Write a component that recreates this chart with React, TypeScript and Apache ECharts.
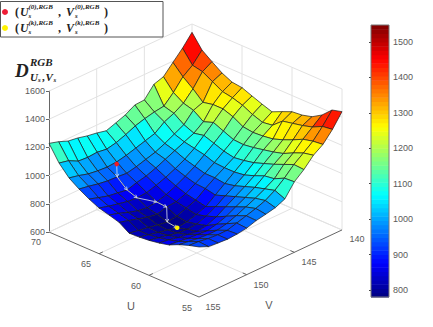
import React, { useEffect, useRef } from "react";
import * as echarts from "echarts";

// Surface heights D(U,V); each list runs over V = 140..155
const vValues = [140,141,142,143,144,145,146,147,148,149,150,151,152,153,154,155];
const uValues = [70,69,68,67,66,65,64,63,62,61,60,59,58,57,56,55];
const zU70 = [1541,1460,1391,1321,1299,1220,1216,1177,1152,1128,1144,1155,1172,1182,1209,1229];
const zU69 = [1446,1370,1320,1240,1175,1165,1150,1130,1100,1075,1060,1070,1065,1070,1105,1120];
const zU68 = [1394,1355,1265,1195,1155,1125,1075,1055,1035,1015,1000,995,1000,1010,1030,1045];
const zU67 = [1345,1315,1200,1175,1105,1070,1035,1005,985,965,950,956,960,970,985,997];
const zU66 = [1311,1275,1215,1125,1075,1045,1015,985,955,930,915,894,905,915,935,957];
const zU65 = [1302,1262,1215,1150,1090,1030,985,950,920,895,875,869,875,890,905,924];
const zU64 = [1274,1240,1190,1120,1065,1015,965,925,890,860,839,830,840,860,885,905];
const zU63 = [1247,1205,1150,1090,1040,990,945,905,865,840,834,815,825,845,865,884];
const zU62 = [1223,1180,1140,1085,1025,985,945,900,850,825,800,790,800,815,825,838];
const zU61 = [1255,1190,1145,1095,1035,985,935,885,835,810,790,780,795,810,825,841];
const zU60 = [1285,1250,1155,1110,1050,995,950,910,865,830,805,800,805,820,835,848];
const zU59 = [1292,1265,1180,1125,1075,1020,975,935,895,855,825,815,825,835,850,860];
const zU58 = [1311,1280,1210,1145,1100,1050,1000,960,925,890,865,850,855,860,870,877];
const zU57 = [1354,1300,1245,1180,1130,1060,1020,985,955,925,900,885,885,890,900,910];
const zU56 = [1420,1335,1262,1210,1160,1095,1040,1000,975,955,935,915,915,920,930,935];
const zU55 = [1439,1345,1270,1225,1155,1100,1010,980,965,952,930,920,915,920,926,955];
const zGrid = [zU70,zU69,zU68,zU67,zU66,zU65,zU64,zU63,zU62,zU61,zU60,zU59,zU58,zU57,zU56,zU55];

// Descent path
const pathU = [68,67,66,65,64,63,62,61];
const pathV = [150,151,151,151,150,150,151,151];
const pathZ = [985,956,894,869,839,834,790,780];

const zTicks = [600,800,1000,1200,1400,1600];
const uTicks = [70,65,60,55];
const vTicks = [155,150,145,140];
const colorTicks = [800,900,1000,1100,1200,1300,1400,1500];
const colorMin = 780;
const colorMax = 1548;

const project = (u: number, v: number, z: number): [number, number] => {
  const a = 70 - u;
  const b = v - 140;
  return [192 + 10 * a - 9.53 * b, 165 + 4.33 * a + 4.47 * b - (z - 600) * 0.141];
};

const clamp = (x: number) => Math.max(0, Math.min(1, x));
const jet = (t: number) => {
  const r = clamp(1.5 - Math.abs(4 * t - 3));
  const g = clamp(1.5 - Math.abs(4 * t - 2));
  const b = clamp(1.5 - Math.abs(4 * t - 1));
  return `rgb(${Math.round(r * 255)},${Math.round(g * 255)},${Math.round(b * 255)})`;
};
const colorOf = (z: number) => {
  const idx = Math.max(0, Math.min(63, Math.floor(((z - colorMin) / (colorMax - colorMin)) * 64)));
  return jet((idx + 0.5) / 64);
};

type Seg = [number, number, number, number, number, number];
const wallSegs: Seg[] = [];
zTicks.forEach((z) => {
  wallSegs.push([70, 155, z, 70, 140, z]);
  wallSegs.push([70, 140, z, 55, 140, z]);
});
[65, 60].forEach((u) => {
  wallSegs.push([u, 140, 600, u, 140, 1600]);
  wallSegs.push([u, 140, 600, u, 155, 600]);
});
[150, 145].forEach((v) => {
  wallSegs.push([70, v, 600, 70, v, 1600]);
  wallSegs.push([70, v, 600, 55, v, 600]);
});
wallSegs.push([70, 140, 600, 70, 140, 1600]);
wallSegs.push([55, 140, 600, 55, 140, 1600]);
wallSegs.push([70, 140, 600, 70, 155, 600]);
wallSegs.push([70, 140, 600, 55, 140, 600]);

const axisSegs: Seg[] = [
  [70, 155, 600, 55, 155, 600],
  [55, 155, 600, 55, 140, 600],
];
[65, 60].forEach((u) => axisSegs.push([u, 155, 600, u, 154.6, 600]));
[150, 145].forEach((v) => axisSegs.push([55, v, 600, 55.4, v, 600]));

const cells: number[][] = [];
for (let s = 0; s <= 28; s++) {
  for (let i = 0; i < 15; i++) {
    const j = s - i;
    if (j >= 0 && j < 15) cells.push([i, j]);
  }
}

const bands: number[][] = [];
for (let i = 0; i < 64; i++) bands.push([i]);

const GRAY = "#5a5a5a";
const SERIF = '"Liberation Serif", "DejaVu Serif", serif';
const SANS = '"Liberation Sans", Arial, sans-serif';

const mathText = (text: string, x: number, y: number, size: number, italic = true) => ({
  type: "text",
  x,
  y,
  silent: true,
  style: {
    text,
    fill: "#222",
    font: `${italic ? "italic " : ""}bold ${size}px ${SERIF}`,
    textVerticalAlign: "middle",
    verticalAlign: "middle",
  },
});

const legendRow = (y: number, sup: string) => [
  mathText("(", 15, y, 12, false),
  mathText("U", 20, y, 12),
  mathText(sup, 28.5, y - 5.5, 7),
  mathText("s", 28.5, y + 3.5, 7),
  mathText(",", 58, y, 12, false),
  mathText("V", 66, y, 12),
  mathText(sup, 75, y - 5.5, 7),
  mathText("s", 75, y + 3.5, 7),
  mathText(")", 104, y, 12, false),
];

const plainText = (text: string, x: number, y: number, size = 9) => ({
  type: "text",
  x,
  y,
  silent: true,
  style: {
    text,
    fill: GRAY,
    font: `${size}px ${SANS}`,
    align: "center",
    verticalAlign: "middle",
    textAlign: "center",
    textVerticalAlign: "middle",
  },
});

export default function App() {
  const ref = useRef<HTMLDivElement>(null);
  useEffect(() => {
    document.body.style.margin = "0";
    const chart = echarts.init(ref.current!, undefined, { renderer: "svg" });
    const option: any = {
      animation: false,
      backgroundColor: "#fff",
      grid: [
        { left: 0, top: 0, width: 433, height: 327, show: false },
        { left: 49, top: 91, width: 1, height: 141, show: false },
        { left: 371, top: 25, width: 18, height: 272, show: false },
      ],
      xAxis: [
        { gridIndex: 0, type: "value", min: 0, max: 433, show: false },
        { gridIndex: 1, type: "value", min: 0, max: 1, show: false },
        { gridIndex: 2, type: "value", min: 0, max: 1, show: false },
      ],
      yAxis: [
        { gridIndex: 0, type: "value", min: 0, max: 327, inverse: true, show: false },
        {
          gridIndex: 1,
          type: "value",
          min: 600,
          max: 1600,
          interval: 200,
          position: "left",
          axisLine: { show: true, lineStyle: { color: "#666", width: 1 } },
          axisTick: { show: true, length: 3, lineStyle: { color: "#666" } },
          axisLabel: { color: GRAY, fontSize: 9, fontFamily: SANS, margin: 4, formatter: (v: number) => String(v) },
          splitLine: { show: false },
        },
        {
          gridIndex: 2,
          type: "value",
          min: colorMin,
          max: colorMax,
          position: "right",
          axisLine: { show: false },
          axisTick: { show: true, inside: true, length: 2, customValues: colorTicks, lineStyle: { color: "#444" } },
          axisLabel: { color: GRAY, fontSize: 9, fontFamily: SANS, margin: 4, customValues: colorTicks, formatter: (v: number) => String(v) },
          splitLine: { show: false },
        },
      ],
      series: [
        {
          type: "custom",
          xAxisIndex: 0,
          yAxisIndex: 0,
          silent: true,
          clip: false,
          z: 1,
          data: wallSegs.map((_, i) => [i]),
          renderItem: (p: any, api: any) => {
            const s = wallSegs[p.dataIndex];
            const a = api.coord(project(s[0], s[1], s[2]));
            const b = api.coord(project(s[3], s[4], s[5]));
            return { type: "line", shape: { x1: a[0], y1: a[1], x2: b[0], y2: b[1] }, style: { stroke: "#e2e2e2", lineWidth: 1 } };
          },
        },
        {
          type: "custom",
          xAxisIndex: 0,
          yAxisIndex: 0,
          silent: true,
          clip: false,
          z: 1,
          data: axisSegs.map((_, i) => [i]),
          renderItem: (p: any, api: any) => {
            const s = axisSegs[p.dataIndex];
            const a = api.coord(project(s[0], s[1], s[2]));
            const b = api.coord(project(s[3], s[4], s[5]));
            return { type: "line", shape: { x1: a[0], y1: a[1], x2: b[0], y2: b[1] }, style: { stroke: "#666", lineWidth: 1 } };
          },
        },
        {
          type: "custom",
          xAxisIndex: 0,
          yAxisIndex: 0,
          silent: true,
          clip: false,
          z: 3,
          data: cells,
          renderItem: (p: any, api: any) => {
            const i = cells[p.dataIndex][0];
            const j = cells[p.dataIndex][1];
            const pt = (m: number, n: number) => api.coord(project(uValues[m], vValues[n], zGrid[m][n]));
            return {
              type: "polygon",
              shape: { points: [pt(i, j), pt(i + 1, j), pt(i + 1, j + 1), pt(i, j + 1)] },
              style: { fill: colorOf(zGrid[i + 1][j]), stroke: "#1c1c1c", lineWidth: 0.7, lineJoin: "round" },
            };
          },
        },
        {
          type: "custom",
          xAxisIndex: 0,
          yAxisIndex: 0,
          silent: true,
          clip: false,
          z: 4,
          data: pathU.slice(1).map((_, i) => [i]),
          renderItem: (p: any, api: any) => {
            const k = p.dataIndex;
            const a = api.coord(project(pathU[k], pathV[k], pathZ[k]));
            const b = api.coord(project(pathU[k + 1], pathV[k + 1], pathZ[k + 1]));
            const ang = Math.atan2(b[1] - a[1], b[0] - a[0]);
            const head = (d: number) => [b[0] - 3.5 * Math.cos(ang + d), b[1] - 3.5 * Math.sin(ang + d)];
            const style = { stroke: "#dfe6f2", fill: "none", lineWidth: 0.8 };
            return {
              type: "group",
              children: [
                { type: "line", shape: { x1: a[0], y1: a[1], x2: b[0], y2: b[1] }, style },
                { type: "polyline", shape: { points: [head(0.5), b, head(-0.5)] }, style },
              ],
            };
          },
        },
        {
          type: "custom",
          xAxisIndex: 0,
          yAxisIndex: 0,
          silent: true,
          clip: false,
          z: 5,
          data: [[0], [pathU.length - 1]],
          renderItem: (p: any, api: any) => {
            const k = p.dataIndex === 0 ? 0 : pathU.length - 1;
            const c = api.coord(project(pathU[k], pathV[k], pathZ[k]));
            return {
              type: "circle",
              shape: { cx: c[0], cy: c[1], r: 2.3 },
              style: { fill: k === 0 ? "#ee1c25" : "#fff200" },
            };
          },
        },
        {
          type: "custom",
          xAxisIndex: 2,
          yAxisIndex: 2,
          silent: true,
          clip: false,
          z: 2,
          data: bands,
          renderItem: (p: any, api: any) => {
            const i = p.dataIndex;
            const step = (colorMax - colorMin) / 64;
            const lo = api.coord([0, colorMin + i * step]);
            const hi = api.coord([1, colorMin + (i + 1) * step]);
            return {
              type: "rect",
              shape: { x: lo[0], y: hi[1], width: hi[0] - lo[0], height: lo[1] - hi[1] + 0.5 },
              style: { fill: jet((i + 0.5) / 64) },
            };
          },
        },
      ],
      graphic: [
        { type: "rect", silent: true, z: 10, shape: { x: 371, y: 25, width: 18, height: 272 }, style: { fill: "none", stroke: "#777", lineWidth: 1 } },
        { type: "rect", silent: true, z: 10, shape: { x: 0.5, y: 1.5, width: 162.5, height: 35.5 }, style: { fill: "#fff", stroke: "#555", lineWidth: 1 } },
        { type: "circle", silent: true, z: 11, shape: { cx: 5, cy: 12, r: 3 }, style: { fill: "#ee1c35" } },
        { type: "circle", silent: true, z: 11, shape: { cx: 5, cy: 28, r: 3 }, style: { fill: "#fff200" } },
        ...legendRow(12, "(0),RGB").map((t) => ({ ...t, z: 11 })),
        ...legendRow(28, "(k),RGB").map((t) => ({ ...t, z: 11 })),
        mathText("D", 15, 70, 19),
        mathText("RGB", 30, 62, 11),
        mathText("U", 30, 77, 11),
        mathText("s", 38, 80, 7),
        mathText(",", 42, 77, 11, false),
        mathText("V", 45.5, 77, 11),
        mathText("s", 53.5, 80, 7),
        plainText(String(uTicks[0]), 36, 242),
        plainText(String(uTicks[1]), 86, 264),
        plainText(String(uTicks[2]), 136, 286),
        plainText(String(uTicks[3]), 187, 308),
        plainText(String(vTicks[0]), 213, 307),
        plainText(String(vTicks[1]), 261, 285),
        plainText(String(vTicks[2]), 309, 262),
        plainText(String(vTicks[3]), 357, 239),
        plainText("U", 131, 306, 11),
        plainText("V", 269, 305, 11),
      ],
    };
    chart.setOption(option);
    return () => chart.dispose();
  }, []);
  return <div ref={ref} style={{ position: "absolute", left: 0, top: 0, width: 433, height: 327 }} />;
}
